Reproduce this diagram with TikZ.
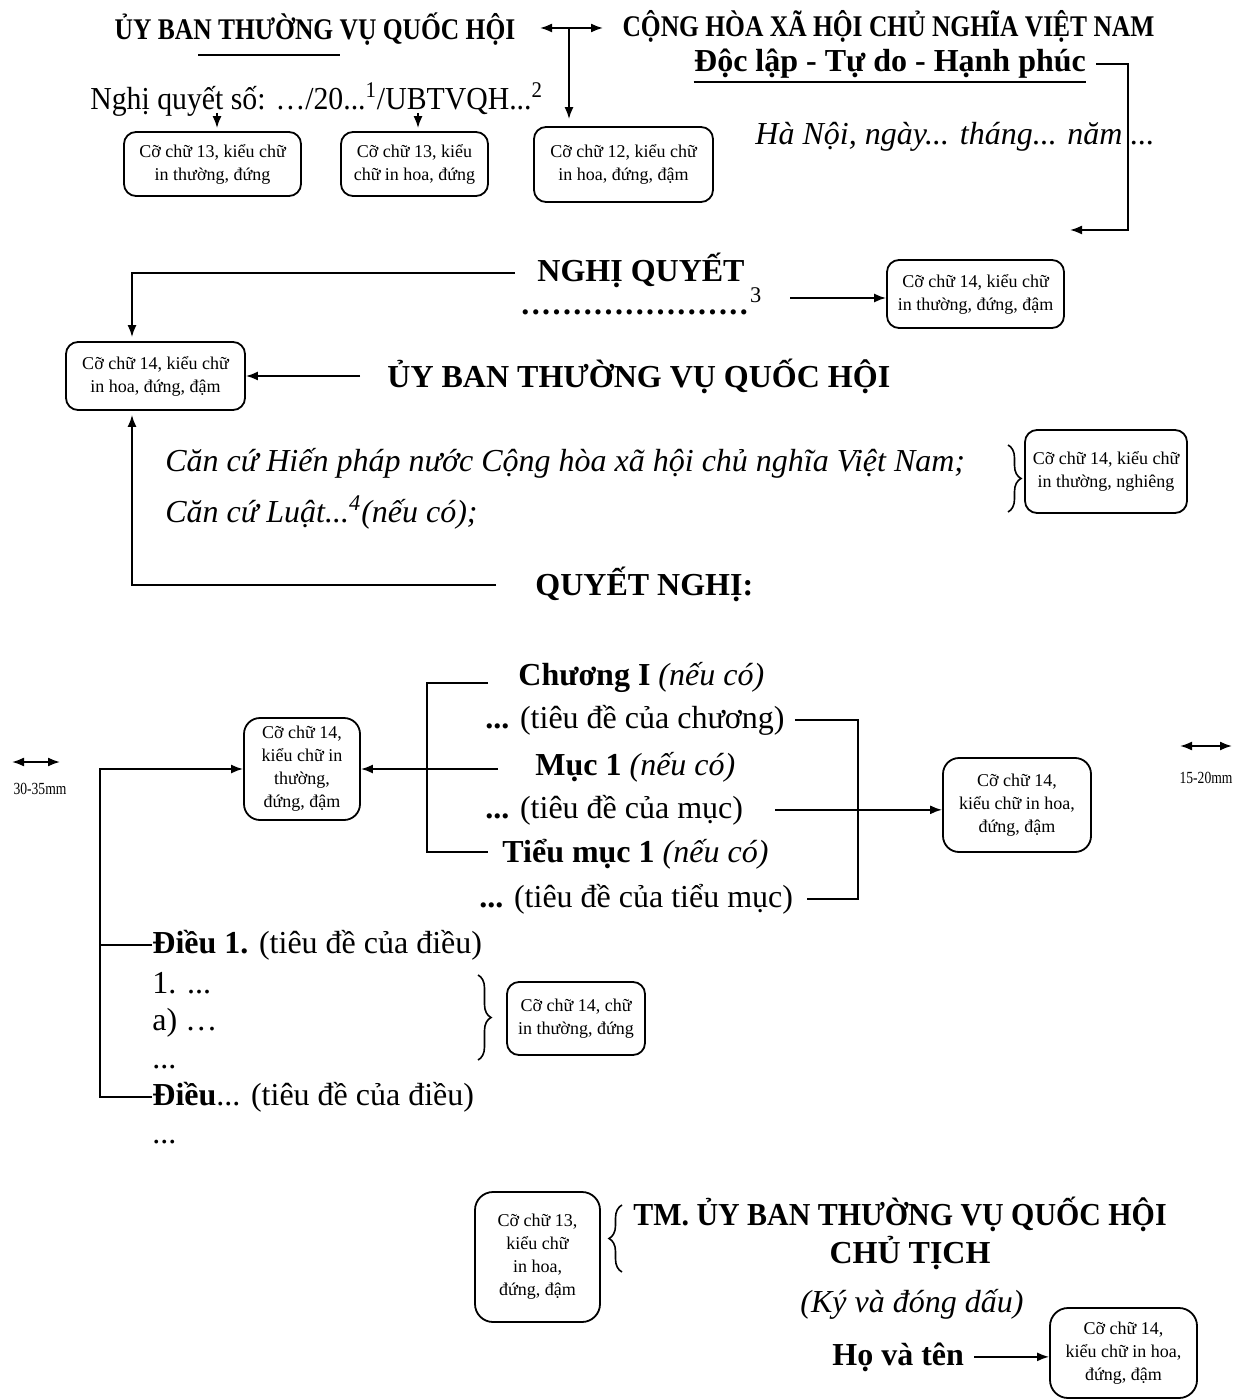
\documentclass[tikz,border=0pt]{standalone}
\usepackage{fontspec}
\setmainfont{Liberation Serif}
\usetikzlibrary{decorations.pathreplacing, arrows.meta}
\newcommand{\neuco}{\textnormal{\itshape (nếu có)}}

\begin{document}
\begin{tikzpicture}
[every node/.style={inner sep=0pt}, >={Latex[length=6pt, width=4.5pt]},
 box/.style={rectangle, rounded corners=6pt, draw=black, line width=0.9pt, align=center, font=\fontsize{9}{11.5}\selectfont},
 head/.style={font=\fontsize{15}{18}\selectfont\bfseries, xscale=0.85},
 body/.style={font=\fontsize{16}{19}\selectfont},
 bodyB/.style={font=\fontsize{16}{19}\selectfont\bfseries},
 bodyI/.style={font=\fontsize{16}{19}\selectfont\itshape},
 small/.style={font=\fontsize{8.5}{10}\selectfont, xscale=0.8},
 link/.style={line width=0.9pt, color=black},
 curly/.style={line width=0.8pt, decorate, decoration={brace, amplitude=6.5pt}}]
\useasboundingbox (0pt, 0pt) rectangle (617.5pt, -700pt);
\node (hdrA) [head, anchor=base] at (157.5pt, -20pt) {ỦY BAN THƯỜNG VỤ QUỐC HỘI};
\node (hdrB) [head, anchor=base] at (444.25pt, -18.5pt) {CỘNG HÒA XÃ HỘI CHỦ NGHĨA VIỆT NAM};
\node (motto) [bodyB, anchor=base] at (445pt, -36pt) {Độc lập - Tự do - Hạnh phúc};
\node (numLine) [body, xscale=0.93, anchor=base west] at (45pt, -55pt) {Nghị quyết số: …/20...\textsuperscript{1}/UBTVQH...\textsuperscript{2}};
\node (date) [bodyI, anchor=base west] at (377.5pt, -72.5pt) {Hà Nội, ngày... tháng... năm ...};
\node (B1) [box, minimum width=88.5pt, minimum height=32pt] at (106.25pt, -82pt) {Cỡ chữ 13, kiểu chữ\\in thường, đứng};
\node (B2) [box, minimum width=73.5pt, minimum height=32pt] at (207.25pt, -82pt) {Cỡ chữ 13, kiểu\\chữ in hoa, đứng};
\node (B3) [box, minimum width=89.5pt, minimum height=37.5pt] at (311.75pt, -82.25pt) {Cỡ chữ 12, kiểu chữ\\in hoa, đứng, đậm};
\node (ngq) [bodyB, anchor=base west] at (268.5pt, -141pt) {NGHỊ QUYẾT};
\node (dots) [body, anchor=base west] at (260.5pt, -157.5pt) {\bfseries\foreach \k in {1,...,22}{.\kern1.2pt}\mdseries\textsuperscript{3}};
\node (B4) [box, minimum width=88.5pt, minimum height=34pt] at (487.75pt, -147pt) {Cỡ chữ 14, kiểu chữ\\in thường, đứng, đậm};
\node (B5) [box, minimum width=89.5pt, minimum height=34pt] at (77.75pt, -188pt) {Cỡ chữ 14, kiểu chữ\\in hoa, đứng, đậm};
\node (ubt) [bodyB, anchor=base west] at (193.5pt, -194pt) {ỦY BAN THƯỜNG VỤ QUỐC HỘI};
\node (can1) [bodyI, anchor=base west] at (82.5pt, -236pt) {Căn cứ Hiến pháp nước Cộng hòa xã hội chủ nghĩa Việt Nam;};
\node (can2) [bodyI, anchor=base west] at (82.5pt, -261.5pt) {Căn cứ Luật...\textsuperscript{4}(nếu có);};
\node (B6) [box, minimum width=81pt, minimum height=41.5pt] at (553pt, -235.75pt) {Cỡ chữ 14, kiểu chữ\\in thường, nghiêng};
\node (qn) [bodyB, anchor=base west] at (267.5pt, -297.5pt) {QUYẾT NGHỊ:};
\node (ch) [bodyB, anchor=base west] at (259pt, -342.5pt) {Chương I \neuco};
\node (chT) [body, anchor=base west] at (242.5pt, -364pt) {\textbf{...} (tiêu đề của chương)};
\node (muc) [bodyB, anchor=base west] at (267.5pt, -387.5pt) {Mục 1 \neuco};
\node (mucT) [body, anchor=base west] at (242.5pt, -409pt) {\textbf{...} (tiêu đề của mục)};
\node (tmuc) [bodyB, anchor=base west] at (251pt, -431pt) {Tiểu mục 1 \neuco};
\node (tmucT) [body, anchor=base west] at (239.5pt, -453.5pt) {\textbf{...} (tiêu đề của tiểu mục)};
\node (B7) [box, rounded corners=8pt, minimum width=58pt, minimum height=51pt] at (151pt, -384.5pt) {Cỡ chữ 14,\\kiểu chữ in\\thường,\\đứng, đậm};
\node (B8) [box, rounded corners=8pt, minimum width=74pt, minimum height=47pt] at (508.5pt, -402.5pt) {Cỡ chữ 14,\\kiểu chữ in hoa,\\đứng, đậm};
\node (mmL) [small] at (20pt, -394.5pt) {30-35mm};
\node (mmR) [small] at (603pt, -389pt) {15-20mm};
\node (d1) [body, anchor=base west] at (76pt, -476.5pt) {\textbf{Điều 1.} (tiêu đề của điều)};
\node (l1) [body, anchor=base west] at (76pt, -496.5pt) {1. ...};
\node (la) [body, anchor=base west] at (76pt, -515pt) {a) …};
\node (ldots) [body, anchor=base west] at (76pt, -534pt) {...};
\node (dn) [body, anchor=base west] at (76pt, -552.5pt) {\textbf{Điều}... (tiêu đề của điều)};
\node (lend) [body, anchor=base west] at (76pt, -571.5pt) {...};
\node (B9) [box, minimum width=69pt, minimum height=36.5pt] at (288pt, -509.25pt) {Cỡ chữ 14, chữ\\in thường, đứng};
\node (B10) [box, rounded corners=9pt, minimum width=62.5pt, minimum height=65pt] at (268.75pt, -628.5pt) {Cỡ chữ 13,\\kiểu chữ\\in hoa,\\đứng, đậm};
\node (tm) [bodyB, xscale=0.935, anchor=base] at (450pt, -612.5pt) {TM. ỦY BAN THƯỜNG VỤ QUỐC HỘI};
\node (ct) [bodyB, anchor=base] at (455pt, -631.5pt) {CHỦ TỊCH};
\node (kd) [bodyI, anchor=base] at (456pt, -656pt) {(Ký và đóng dấu)};
\node (hvt) [bodyB, anchor=base west] at (416pt, -682.5pt) {Họ và tên};
\node (B11) [box, rounded corners=9pt, minimum width=73.5pt, minimum height=45pt] at (561.75pt, -676.5pt) {Cỡ chữ 14,\\kiểu chữ in hoa,\\đứng, đậm};
\coordinate (dblL) at (270pt, -14pt);
\coordinate (dblR) at (301.5pt, -14pt);
\coordinate (dblM) at (284.5pt, -14pt);
\coordinate (numA) at (108.5pt, -56.5pt);
\coordinate (numB) at (209pt, -56.5pt);
\coordinate (bendB) at (564pt, -115pt);
\coordinate (dateArr) at (535pt, -115pt);
\coordinate (dotsArr) at (395pt, -149pt);
\coordinate (ngqL) at (257.5pt, -136.5pt);
\coordinate (qnL) at (248pt, -292.5pt);
\coordinate (chEnd) at (244pt, -341.5pt);
\coordinate (brL) at (213.5pt, -341.5pt);
\coordinate (tmEnd) at (244pt, -426pt);
\coordinate (mucEnd) at (249pt, -384.5pt);
\coordinate (brR) at (429pt, -410pt);
\coordinate (railTop) at (50pt, -384.5pt);
\coordinate (mmL1) at (6pt, -381pt);
\coordinate (mmL2) at (30pt, -381pt);
\coordinate (mmR1) at (590pt, -373pt);
\coordinate (mmR2) at (616pt, -373pt);
\draw [link] (99pt, -27.5pt) -- (170pt, -27.5pt);
\draw [link] ([yshift=-1.5pt]motto.south west) -- ([yshift=-1.5pt]motto.south east);
\draw [link, <->] (dblL) -- (dblR);
\draw [link, ->, shorten >=3.5pt] (dblM) -- (dblM |- B3.north);
\draw [link, ->, shorten >=1.5pt] (numA) -- (numA |- B1.north);
\draw [link, ->, shorten >=1.5pt] (numB) -- (numB |- B2.north);
\draw [link, ->] ([xshift=5pt]motto.east) -| (bendB) -- (dateArr);
\draw [link, ->] (dotsArr) -- (dotsArr -| B4.west);
\draw [link, ->, shorten >=2pt] (ngqL) -| ([xshift=-11.75pt]B5.north);
\draw [link, ->] ([xshift=-13.5pt]ubt.west |- B5.east) -- (B5.east);
\draw [link, ->, shorten >=2pt] (qnL) -| ([xshift=-11.75pt]B5.south);
\draw [link] (chEnd) -- (brL) |- (tmEnd);
\draw [link, ->] (mucEnd) -- (mucEnd -| B7.east);
\draw [link] ([xshift=5pt]chT.east) -| (brR) |- ([xshift=7pt]tmucT.east);
\draw [link, ->] ([xshift=16pt]mucT.east) -- (mucT.east -| B8.west);
\draw [link, ->] (dn.west) -| (railTop) -- (B7.west);
\draw [link] (d1.west) -- (d1.west -| railTop);
\draw [link, ->] ([xshift=5pt]hvt.east) -- (hvt.east -| B11.west);
\draw [link, <->] (mmL1) -- (mmL2);
\draw [link, <->] (mmR1) -- (mmR2);
\draw [curly] (504pt, -222.5pt) -- (504pt, -256pt);
\draw [curly] (239pt, -487.5pt) -- (239pt, -530pt);
\draw [curly] (311pt, -636pt) -- (311pt, -602.5pt);
\end{tikzpicture}
\end{document}
